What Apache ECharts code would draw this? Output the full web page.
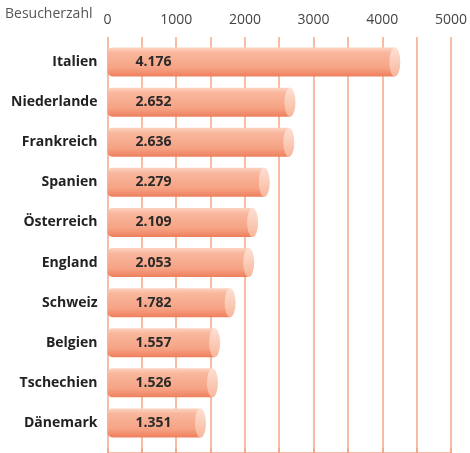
<!DOCTYPE html>
<html>
<head>
<meta charset="utf-8">
<script src="https://cdn.jsdelivr.net/npm/echarts@6/dist/echarts.min.js"></script>
<style>
  html, body { margin: 0; padding: 0; background: #fff; }
  #chart { width: 470px; height: 453px; }
</style>
</head>
<body>
<div id="chart"></div>
<script>
// Länder und Besucherzahlen
const laender = ['Italien', 'Niederlande', 'Frankreich', 'Spanien', 'Österreich', 'England', 'Schweiz', 'Belgien', 'Tschechien', 'Dänemark'];
const besucher = [4176, 2652, 2636, 2279, 2109, 2053, 1782, 1557, 1526, 1351];
const ticks = [0, 1000, 2000, 3000, 4000, 5000];

const lachs = '#f6a486';
const font = 'Open Sans';

const chart = echarts.init(document.getElementById('chart'));

chart.setOption({
  animation: false,
  textStyle: { fontFamily: font },
  graphic: [{
    type: 'text', left: 5, top: 7,
    style: { text: 'Besucherzahl', fontSize: 14, fill: '#555', fontFamily: font }
  }],
  grid: [
    // nur für Achse + Gitterlinien
    { left: 107.5, right: 18.5, top: 37, bottom: 0 },
    // Balken
    { left: 107.5, right: 18.5, top: 42, bottom: 10 }
  ],
  xAxis: [
    {
      gridIndex: 0, type: 'value', position: 'top',
      min: 0, max: 5000, interval: 500,
      axisLine: { show: true, lineStyle: { color: lachs, width: 1.5 } },
      axisTick: { show: true, length: 5, lineStyle: { color: lachs, width: 1.5 } },
      axisLabel: {
        color: '#444', fontSize: 14, margin: 10,
        formatter: v => ticks.includes(v) ? String(v) : ''
      },
      splitLine: { show: true, lineStyle: { color: lachs, width: 1.5 } }
    },
    { gridIndex: 1, type: 'value', min: 0, max: 5000, show: false }
  ],
  yAxis: [
    { gridIndex: 0, type: 'value', show: false, min: 0, max: 1 },
    {
      gridIndex: 1, type: 'category', data: laender, inverse: true,
      axisLine: { show: false }, axisTick: { show: false },
      axisLabel: { color: '#222', fontSize: 14, fontWeight: 'bold', margin: 10 }
    }
  ],
  series: [{
    type: 'bar',
    xAxisIndex: 1, yAxisIndex: 1,
    data: besucher,
    barWidth: 29,
    itemStyle: {
      borderRadius: [5, 0, 0, 5],
      color: new echarts.graphic.LinearGradient(0, 0, 0, 1, [
        { offset: 0, color: '#fcd3c1' },
        { offset: 0.18, color: '#f9b79d' },
        { offset: 0.7, color: '#f6a385' },
        { offset: 1, color: '#ee7f5d' }
      ])
    },
    label: {
      show: true, position: 'insideLeft', distance: 28,
      color: '#2a2a2a', fontSize: 14, fontWeight: 'bold',
      formatter: p => p.value.toLocaleString('de-DE')
    },
    z: 2
  }, {
    // Zylinderdeckel am Balkenende
    type: 'pictorialBar',
    xAxisIndex: 1, yAxisIndex: 1,
    data: besucher,
    symbol: 'circle',
    symbolSize: [11, 29],
    symbolPosition: 'end',
    symbolOffset: ['50%', 0],
    itemStyle: {
      color: new echarts.graphic.LinearGradient(0, 0, 0, 1, [
        { offset: 0, color: '#fde0d3' },
        { offset: 1, color: '#f8b79c' }
      ])
    },
    z: 3
  }]
});
</script>
</body>
</html>
